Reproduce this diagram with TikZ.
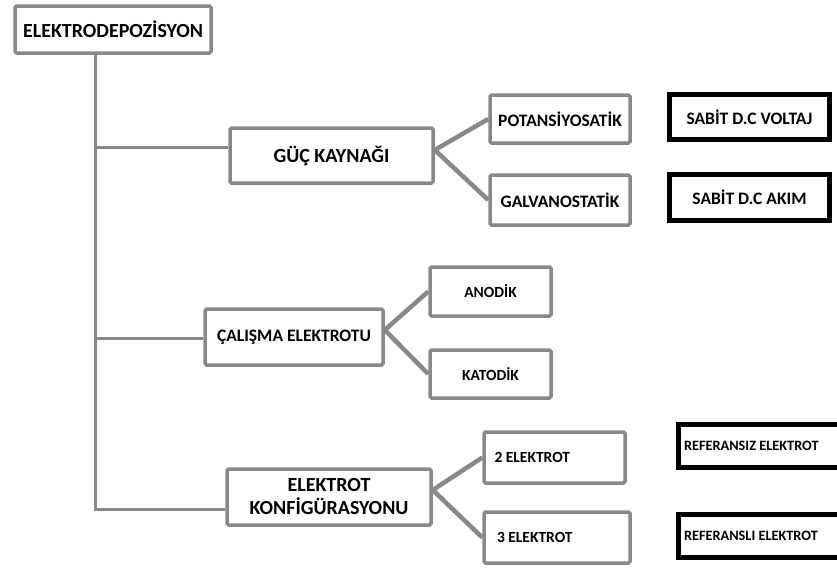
\documentclass[tikz,border=0pt]{standalone}
\usepackage{fontspec}
\setmainfont{Carlito}
\definecolor{boxgray}{RGB}{136,136,136}

\begin{document}
\begin{tikzpicture}[x=1pt, y=-1pt,
    graybox/.style={draw=boxgray, line width=3.5pt, rounded corners=1.5pt, fill=white, inner sep=0pt, align=flush center},
    blackbox/.style={draw=black, line width=5pt, fill=white, inner sep=0pt},
    leftbox/.style={align=flush left, inner xsep=#1, text width=120pt},
    link/.style={draw=boxgray, line width=3pt},
    fork/.style={draw=boxgray, line width=4.5pt},
    bigtext/.style={font=\bfseries\fontsize{20}{23}\selectfont},
    midtext/.style={font=\bfseries\fontsize{17.5}{21}\selectfont},
    smalltext/.style={font=\bfseries\fontsize{15.5}{19}\selectfont},
    tinytext/.style={font=\bfseries\fontsize{14.3}{17}\selectfont}]
    \useasboundingbox (0,0) rectangle (837,570);
    \clip (0,0) rectangle (837,570);

    % Root
    \node[graybox, bigtext, minimum width=196pt, minimum height=47pt] (root) at (113,29.5) {ELEKTRODEPOZİSYON};

    % Main branches
    \node[graybox, bigtext, minimum width=203pt, minimum height=55pt] (guc) at (331.5,155.5) {GÜÇ KAYNAĞI};
    \node[graybox, midtext, minimum width=178pt, minimum height=56pt] (calisma) at (294,337) {ÇALIŞMA ELEKTROTU};
    \node[graybox, bigtext, minimum width=204pt, minimum height=56pt] (konf) at (329,497) {ELEKTROT\\KONFİGÜRASYONU};

    % Sub branches
    \node[graybox, midtext, minimum width=140pt, minimum height=48pt] (pot) at (560,119) {POTANSİYOSATİK};
    \node[graybox, midtext, minimum width=140pt, minimum height=50pt] (galv) at (560,200) {GALVANOSTATİK};
    \node[graybox, smalltext, minimum width=121pt, minimum height=49pt] (anodik) at (490.5,291.5) {ANODİK};
    \node[graybox, smalltext, minimum width=121pt, minimum height=48pt] (katodik) at (490.5,374) {KATODİK};
    \node[graybox, smalltext, minimum width=141pt, minimum height=51pt, leftbox=10.5pt] (iki) at (554.5,457.5) {2 ELEKTROT};
    \node[graybox, smalltext, minimum width=136pt, minimum height=51pt, leftbox=13pt] (uc) at (557,537.5) {3 ELEKTROT};

    % Notes
    \node[blackbox, midtext, minimum width=160pt, minimum height=45pt] (voltaj) at (749.5,117) {SABİT D.C VOLTAJ};
    \node[blackbox, midtext, minimum width=160pt, minimum height=46pt] (akim) at (749.5,197.5) {SABİT D.C AKIM};
    \node[blackbox, tinytext, minimum height=43pt, anchor=west, align=flush left, inner xsep=6pt, text width=185pt] (refsiz) at (675.5,446) {REFERANSIZ ELEKTROT};
    \node[blackbox, tinytext, minimum height=43pt, anchor=west, align=flush left, inner xsep=6pt, text width=185pt] (refli) at (675.5,536) {REFERANSLI ELEKTROT};

    % Trunk
    \coordinate (trunk) at (95,509);
    \coordinate (gucin) at ([yshift=8.5pt]guc.west);
    \coordinate (calismain) at ([yshift=-1pt]calisma.west);
    \coordinate (konfin) at ([yshift=-12pt]konf.west);
    \draw[link] (root.south -| trunk) -- (trunk) -- (konfin);
    \foreach \b in {gucin, calismain}
        \draw[link] (\b -| trunk) -- (\b);

    % Forks
    \coordinate (gucfork) at ([yshift=5.5pt]guc.east);
    \coordinate (calismafork) at ([yshift=7pt]calisma.east);
    \coordinate (konffork) at ([yshift=7pt]konf.east);
    \foreach \from/\to in {gucfork/pot, gucfork/galv, calismafork/anodik, calismafork/katodik, konffork/iki, konffork/uc}
        \draw[fork] (\from) -- (\to.west);
\end{tikzpicture}
\end{document}
